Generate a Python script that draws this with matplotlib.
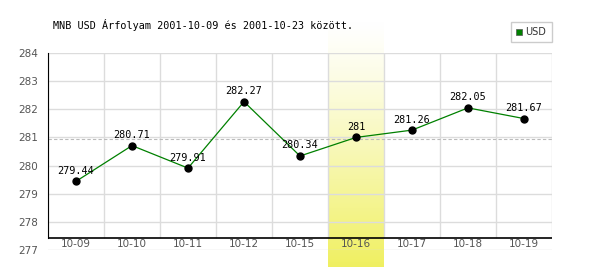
import numpy as np
import matplotlib
matplotlib.use('Agg')
import matplotlib.pyplot as plt

dates = ['10-09', '10-10', '10-11', '10-12', '10-15', '10-16', '10-17', '10-18', '10-19']
rates = [279.44, 280.71, 279.91, 282.27, 280.34, 281.00, 281.26, 282.05, 281.67]
labels = ['279.44', '280.71', '279.91', '282.27', '280.34', '281', '281.26', '282.05', '281.67']
highlight = '10-16'
y_ticks = [277, 278, 279, 280, 281, 282, 283, 284]
title = 'MNB USD Árfolyam 2001-10-09 és 2001-10-23 között.'

MONO = 'DejaVu Sans Mono'
GRID = '#dcdcdc'


def main():
    fig = plt.figure(figsize=(6, 2.7), dpi=100)
    # axes box: x 48..552 px, y 53 (284) .. 250 (277) px
    ax = fig.add_axes([48 / 600, 20 / 270, 504 / 600, 197 / 270])
    x = np.arange(len(dates))
    y_axis = 277.43  # where the black x axis sits

    # highlighted day, gradient band running past the plot area
    hi = dates.index(highlight)
    grad = np.linspace(0, 1, 256)[:, None] ** 1.2
    top = np.array([1.0, 1.0, 1.0])
    bot = np.array([0.94, 0.94, 0.38])
    img = top + (bot - top) * grad[..., None]
    ax.imshow(img, extent=(hi - 0.5, hi + 0.5, 276.4, 285.1), origin='upper',
              aspect='auto', clip_on=False, zorder=0)
    ax.set_xlim(-0.5, len(dates) - 0.5)
    ax.set_ylim(y_ticks[0], y_ticks[-1])

    for t in y_ticks:
        ax.axhline(t, color=GRID, lw=1, zorder=1)
    ax.vlines(np.arange(len(dates) + 1) - 0.5, y_axis, y_ticks[-1], color=GRID, lw=1, zorder=1)
    ax.axhline(np.mean(rates), color='#bbbbbb', lw=0.8, ls=(0, (3, 2)), zorder=1)

    ax.plot(x, rates, color='#008000', lw=0.9, zorder=3)
    ax.plot(x, rates, 'o', color='black', ms=5, zorder=4)
    for xi, yi, lab in zip(x, rates, labels):
        ax.annotate(lab, (xi, yi), xytext=(0, 4), textcoords='offset points',
                    ha='center', va='bottom', family=MONO, fontsize=7.3, zorder=5)

    for s in ['top', 'right', 'bottom']:
        ax.spines[s].set_visible(False)
    ax.spines['left'].set_bounds(y_axis, y_ticks[-1])
    ax.spines['left'].set_color('black')
    ax.axhline(y_axis, color='black', lw=1.2, zorder=6)

    ax.set_xticks([])
    ax.set_yticks(y_ticks)
    ax.set_yticklabels([str(t) for t in y_ticks], color='#555555', fontsize=7.5)
    ax.tick_params(axis='y', length=0, pad=7)
    for xi, d in zip(x, dates):
        ax.text(xi, 277.2, d, ha='center', va='center', color='#555555',
                fontsize=7.5, zorder=6)

    fig.text(53 / 600, 1 - 25 / 270, title, family=MONO, fontsize=7.3, va='center')

    # legend box
    fig.patches.append(plt.Rectangle((511 / 600, 1 - 42 / 270), 41 / 600, 20 / 270,
                                     transform=fig.transFigure, fill=False,
                                     edgecolor='#cccccc', lw=1))
    fig.patches.append(plt.Rectangle((516 / 600, 1 - 35 / 270), 6 / 600, 6 / 270,
                                     transform=fig.transFigure, facecolor='#008000',
                                     edgecolor='#555555', lw=0.5))
    fig.text(525 / 600, 1 - 32 / 270, 'USD', fontsize=7, color='#333333', va='center')

    fig.savefig('out.png', dpi=100)


if __name__ == '__main__':
    main()
